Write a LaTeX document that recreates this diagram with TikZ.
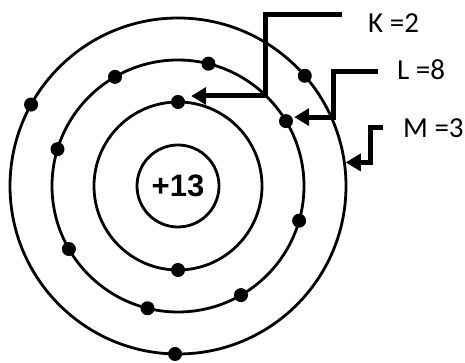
\documentclass[tikz,border=0pt]{standalone}
\usepackage{fontspec}
\setmainfont{Carlito}
\newfontfamily\nucfont{Liberation Sans}
\usetikzlibrary{arrows.meta, calc}

\begin{document}
\begin{tikzpicture}[x=1pt, y=1pt,
  shell/.style={circle, draw, line width=2.8pt, inner sep=0pt},
  electron/.style={circle, fill=black, inner sep=0pt, minimum size=14pt},
  ptr/.style={line width=5pt, -{Triangle[length=15pt, width=17pt]}},
  lab/.style={anchor=west, inner sep=0pt, font=\fontsize{29}{29}\selectfont}]
\useasboundingbox (0,0) rectangle (465,363);
\coordinate (c) at (178,177);
% nucleus and shells
\node (nuc) [shell, minimum size=82pt, font=\nucfont\bfseries\fontsize{31}{31}\selectfont] at (c) {+13};
\node (sK) [shell, minimum size=168pt] at (c) {};
\node (sL) [shell, minimum size=252pt] at (c) {};
\node (sM) [shell, minimum size=336pt] at (c) {};
% electrons
\foreach \a in {90,270}
  \node (k\a) [electron] at ($(c)+(\a:84)$) {};
\foreach \a in {31,76,120,163,210,256,300,344}
  \node (l\a) [electron] at ($(c)+(\a:126)$) {};
\foreach \a in {41,151,269}
  \node (m\a) [electron] at ($(c)+(\a:168)$) {};
% labels
\node (klab) [lab] at (368,340) {K =2};
\node (llab) [lab] at (397,293) {L =8};
\node (mlab) [lab] at (403,235) {M =3};
\coordinate (kin) at (342,348);
\coordinate (lin) at (378,291);
\coordinate (min) at (383,235);
\draw [ptr] (kin) -- ++(-77,0) |- ([xshift=6pt, yshift=6pt]k90.east);
\draw [ptr] (lin) -- ++(-45,0) |- ([xshift=1pt, yshift=4pt]l31.east);
\draw [ptr] (min) -- ++(-13,0) |- (sM.8);
\end{tikzpicture}
\end{document}
